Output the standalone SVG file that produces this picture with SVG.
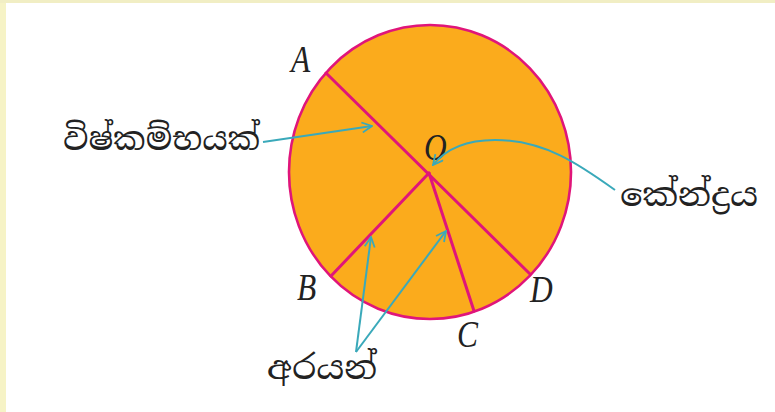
<svg xmlns="http://www.w3.org/2000/svg" width="775" height="412" viewBox="0 0 775 412">
<defs>
<style>
.lbl{font-family:"Liberation Serif","Times New Roman",serif;font-style:italic;font-size:37px;fill:#222}
.si{font-family:"Noto Serif Sinhala","Noto Sans Sinhala","Iskoola Pota","Noto Sans",sans-serif;font-size:32px;fill:#222}
.rad{stroke:#e0157a;stroke-width:3;fill:none;stroke-linecap:round}
.ptr{stroke:#3aa9ba;stroke-width:2;fill:none}
</style>
<marker id="ah" viewBox="0 0 12 12" refX="11" refY="6" markerWidth="12" markerHeight="12" markerUnits="userSpaceOnUse" orient="auto">
<path d="M1,1 L11,6 L1,11" fill="none" stroke="#3aa9ba" stroke-width="1.8"/>
</marker>
</defs>
<rect x="0" y="0" width="775" height="412" fill="#ffffff"/>
<rect x="0" y="0" width="6" height="412" fill="#f6f3c6"/>
<rect x="0" y="0" width="775" height="3" fill="#f1eec4"/>
<g id="circle">
<ellipse cx="430" cy="172" rx="141" ry="147" fill="#fbab1c" stroke="#e0157a" stroke-width="2.6"/>
<line class="rad" x1="326" y1="73" x2="530" y2="274"/>
<line class="rad" x1="429" y1="173" x2="331" y2="276"/>
<line class="rad" x1="429" y1="173" x2="474" y2="311"/>
</g>
<g id="labels">
<text class="lbl" x="291" y="72" transform="translate(291 72) scale(0.85 1) translate(-291 -72)">A</text>
<text class="lbl" x="424" y="160" transform="translate(424 160) scale(0.85 1) translate(-424 -160)">O</text>
<text class="lbl" x="297" y="300" transform="translate(297 300) scale(0.85 1) translate(-297 -300)">B</text>
<text class="lbl" x="457" y="347" transform="translate(457 347) scale(0.85 1) translate(-457 -347)">C</text>
<text class="lbl" x="530" y="302" transform="translate(530 302) scale(0.85 1) translate(-530 -302)">D</text>
</g>
<g id="connectors">
<path class="ptr" d="M263,142 L372,126" marker-end="url(#ah)"/>
<path class="ptr" d="M615,190 C580,165 545,140 495,140 C465,140 445,150 433,165" marker-end="url(#ah)"/>
<path class="ptr" d="M356,352 L371,237" marker-end="url(#ah)"/>
<path class="ptr" d="M356,352 L446,231" marker-end="url(#ah)"/>
</g>
<g id="diameter-text"><text class="si" x="63" y="150" textLength="197" lengthAdjust="spacingAndGlyphs">විෂ්කම්භයක්</text></g>
<g id="centre-text"><text class="si" x="620" y="206" textLength="138" lengthAdjust="spacingAndGlyphs">කේන්ද්‍රය</text></g>
<g id="radii-text"><text class="si" x="267" y="379" textLength="110" lengthAdjust="spacingAndGlyphs">අරයන්</text></g>
</svg>
